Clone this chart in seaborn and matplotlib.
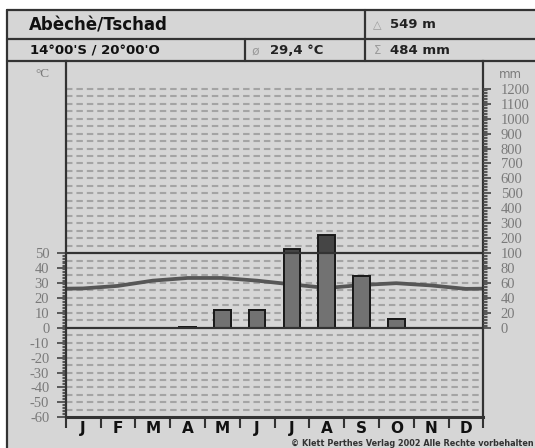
import numpy as np
import pandas as pd
import seaborn as sns
import matplotlib.pyplot as plt
from matplotlib.lines import Line2D
from matplotlib.patches import Rectangle

# climate data Abeche / Tschad
month_keys = ["Jan", "Feb", "Mar", "Apr", "May", "Jun", "Jul", "Aug", "Sep", "Oct", "Nov", "Dec"]
month_labels = ["J", "F", "M", "A", "M", "J", "J", "A", "S", "O", "N", "D"]
temp_c = [26.3, 28.0, 31.5, 33.3, 33.3, 31.5, 29.0, 26.6, 28.6, 29.8, 28.3, 26.0]
precip_mm = [0, 0, 0, 1, 24, 24, 130, 224, 69, 12, 0, 0]

temp_ticks = list(range(-60, 51, 10))
precip_tick_labels = ["0", "20", "40", "60", "80", "100", "200", "300", "400", "500",
                      "600", "700", "800", "900", "1000", "1100", "1200"]

W, H = 535, 448
BG = "#d6d6d6"
LINE = "#333333"
GRAYTXT = "#7a7a7a"


def mm_to_units(v):
    # 0-100 mm: 20 mm per 10 degC step; above 100 mm: 100 mm per step
    return v / 2.0 if v <= 100 else 50 + (v - 100) / 10.0


def fx(x):
    return x / W


def fy(y):
    return 1 - y / H


sns.set_theme(style="ticks")
plt.rcParams["font.family"] = ["DejaVu Sans"]

fig = plt.figure(figsize=(W / 100, H / 100), dpi=100)
fig.patch.set_facecolor("white")

# grey background box of the whole diagram
fig.add_artist(Rectangle((fx(7), 0), 1, fy(10), transform=fig.transFigure,
                         facecolor=BG, edgecolor="none", zorder=0))

left, right, top, bottom = 65.7, 483.3, 61.0, 417.3
ax = fig.add_axes([fx(left), fy(bottom), fx(right) - fx(left), fy(top) - fy(bottom)])
ax.set_facecolor(BG)
ymin, ymax = -60, 178.6

# dashed grid every half step
for v in np.arange(-55, 161, 5):
    if v in (0, 50):
        continue
    ax.axhline(v, color="#a4a4a4", lw=1.5, ls=(0, (3.1, 1.9)), zorder=1)

# temperature curve (wrapped Dec/Jan at the edges)
tx = [-1.0] + list(range(12)) + [12.0]
ty = [temp_c[-1]] + temp_c + [temp_c[0]]
sns.lineplot(x=tx, y=ty, sort=False, color="#565656", lw=2.7, zorder=2, ax=ax)

# precipitation bars: dark part above 100 mm, lighter part below
scaled = [mm_to_units(v) for v in precip_mm]
lower = [min(v, 50) for v in scaled]
df = pd.DataFrame({"month": month_keys, "full": scaled, "lower": lower})
sns.barplot(data=df, x="month", y="full", order=month_keys, color="#454545",
            saturation=1, width=0.48, edgecolor="#1a1a1a", linewidth=1.4, zorder=3, ax=ax)
sns.barplot(data=df, x="month", y="lower", order=month_keys, color="#727272",
            saturation=1, width=0.48, edgecolor="#1a1a1a", linewidth=1.4, zorder=3, ax=ax)

ax.axhline(0, color=LINE, lw=1.6, zorder=4)
ax.axhline(50, color=LINE, lw=1.6, zorder=4)

ax.set_xlim(-0.5, 11.5)
ax.set_ylim(ymin, ymax)
ax.set_xlabel("")
ax.set_ylabel("")

# left axis: temperature
ax.set_yticks(temp_ticks)
ax.set_yticklabels([str(t) for t in temp_ticks], fontfamily="Liberation Serif",
                   fontsize=10.5, color=GRAYTXT)
ax.set_yticks(np.arange(-60, 51, 1), minor=True)
ax.tick_params(axis="y", which="major", direction="out", length=6.3, width=1.2,
               color="#444444", pad=5.5)
ax.tick_params(axis="y", which="minor", direction="out", length=3.2, width=0.8,
               color="#555555")

# x axis: month boundaries as ticks, labels in the middle
ax.set_xticks(np.arange(-0.5, 12, 1))
ax.set_xticklabels([""] * 13)
ax.set_xticks(np.arange(12), minor=True)
ax.set_xticklabels(month_labels, minor=True, fontsize=11, fontweight="bold", color="#111111")
ax.tick_params(axis="x", which="major", direction="out", length=8, width=1.5, color=LINE)
ax.tick_params(axis="x", which="minor", length=0, pad=2.5)

for s in ("left", "right", "bottom"):
    ax.spines[s].set_color(LINE)
    ax.spines[s].set_linewidth(1.6)
ax.spines["bottom"].set_linewidth(2.2)
ax.spines["top"].set_visible(False)

# right axis: precipitation
ax2 = ax.twinx()
ax2.set_ylim(ymin, ymax)
ax2.set_yticks(list(range(0, 161, 10)))
ax2.set_yticklabels(precip_tick_labels, fontfamily="Liberation Serif",
                    fontsize=10.5, color=GRAYTXT)
ax2.set_yticks(np.arange(0, 161, 1), minor=True)
ax2.tick_params(axis="y", which="major", direction="out", length=6, width=1.2,
                color="#444444", pad=6.5)
ax2.tick_params(axis="y", which="minor", direction="out", length=3.2, width=0.8,
                color="#555555")
ax2.grid(False)
for s in ("left", "right", "bottom", "top"):
    ax2.spines[s].set_visible(False)

# header table
def hline(y, x0, x1, lw=1.6):
    fig.add_artist(Line2D([fx(x0), fx(x1)], [fy(y), fy(y)], transform=fig.transFigure,
                          color=LINE, lw=lw, zorder=5))


def vline(x, y0, y1, lw=1.6):
    fig.add_artist(Line2D([fx(x), fx(x)], [fy(y0), fy(y1)], transform=fig.transFigure,
                          color=LINE, lw=lw, zorder=5))


hline(10, 7, 540)
hline(39, 7, 540)
hline(61, 7, 540)
vline(7, 10, 450)
vline(364.7, 10, 61)
vline(244.7, 39, 61)

fig.text(fx(29), fy(25), "Abèchè/Tschad", fontsize=12, fontweight="bold",
         color="#111111", va="center", ha="left")
fig.text(fx(30), fy(51), "14°00'S / 20°00'O", fontsize=9.5, fontweight="bold",
         color="#111111", va="center", ha="left")
fig.text(fx(252), fy(51), "ø", fontsize=9, color="#9a9a9a", va="center", ha="left")
fig.text(fx(270), fy(51), "29,4 °C", fontsize=9.5, fontweight="bold",
         color="#222222", va="center", ha="left")
fig.text(fx(373), fy(25), "△", fontsize=8, color="#9a9a9a", va="center", ha="left")
fig.text(fx(390), fy(25), "549 m", fontsize=9.5, fontweight="bold",
         color="#222222", va="center", ha="left")
fig.text(fx(374), fy(51), "Σ", fontsize=8.5, color="#9a9a9a", va="center", ha="left")
fig.text(fx(390), fy(51), "484 mm", fontsize=9.5, fontweight="bold",
         color="#222222", va="center", ha="left")

fig.text(fx(50), fy(74), "°C", fontfamily="Liberation Serif", fontsize=9.5,
         color=GRAYTXT, va="center", ha="right")
fig.text(fx(499), fy(74), "mm", fontsize=8.5, color=GRAYTXT, va="center", ha="left")

fig.text(fx(533.5), fy(443), "© Klett Perthes Verlag 2002 Alle Rechte vorbehalten",
         fontsize=5.85, fontweight="bold", color="#333333", va="center", ha="right")

fig.savefig("out.png", dpi=100)
